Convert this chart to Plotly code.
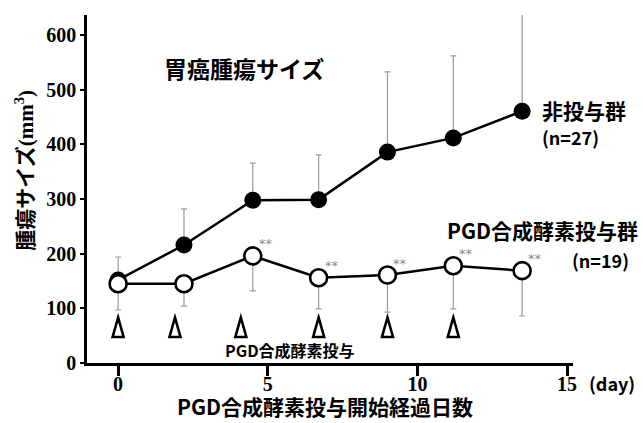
import plotly.graph_objects as go

# Measurement days after the start of PGD synthase dosing
days = [0, 2.2, 4.5, 6.7, 9.0, 11.2, 13.5]

# Untreated group (n=27): mean tumour size and upward SD (mm^3)
control_mean = [152, 216, 298, 299, 386, 412, 461]
control_sd = [42, 66, 68, 82, 147, 150, 182]

# PGD synthase treated group (n=19): mean tumour size and downward SD (mm^3)
treated_mean = [145, 145, 196, 156, 161, 178, 169]
treated_sd = [48, 41, 64, 57, 68, 79, 83]

# Days on which the enzyme was administered
dose_days = [0, 1.9, 4.1, 6.7, 9.0, 11.2]
dose_level = 65

# Points marked as significant (**)
sig_index = [2, 3, 4, 5, 6]

x_ticks = [0, 5, 10, 15]
y_ticks = [0, 100, 200, 300, 400, 500, 600]

SANS = "Noto Sans CJK JP"
SERIF = "Liberation Serif"
ERR_COLOR = "#9a9a9a"

fig = go.Figure()

fig.add_trace(go.Scatter(
    x=days, y=control_mean, mode="lines+markers",
    line=dict(color="black", width=2.5),
    marker=dict(color="black", size=17, line=dict(width=0)),
    error_y=dict(type="data", array=control_sd, arrayminus=[0] * len(days),
                 color=ERR_COLOR, thickness=1.2, width=3),
    cliponaxis=False, showlegend=False,
))

fig.add_trace(go.Scatter(
    x=days, y=treated_mean, mode="lines+markers",
    line=dict(color="black", width=2.5),
    marker=dict(color="white", size=17, line=dict(color="black", width=2.6)),
    error_y=dict(type="data", array=[0] * len(days), arrayminus=treated_sd,
                 color=ERR_COLOR, thickness=1.2, width=3),
    cliponaxis=False, showlegend=False,
))

# Open dosing arrowheads, drawn in pixel units around each dosing day
shapes = []
for d in dose_days:
    shapes.append(dict(
        type="path", xref="x", yref="y",
        xsizemode="pixel", ysizemode="pixel",
        xanchor=d, yanchor=dose_level,
        path="M0,10 L-5.5,-9.5 L5.5,-9.5 Z",
        line=dict(color="black", width=2.6),
        fillcolor="white", layer="above",
    ))

annotations = []
for i in sig_index:
    annotations.append(dict(
        x=days[i], y=treated_mean[i], xref="x", yref="y",
        text="**", showarrow=False, xshift=13, yshift=12,
        font=dict(family="DejaVu Sans", size=13, color="#8a8a8a"),
    ))


def label(text, x, y, size, xanchor="center", xref="x", yref="y", **kw):
    annotations.append(dict(
        x=x, y=y, xref=xref, yref=yref, text=text, showarrow=False,
        xanchor=xanchor, yanchor="middle",
        font=dict(family=SANS, size=size, color="black", weight="bold"), **kw,
    ))


label("胃癌腫瘍サイズ", 4.2, 540, 23)
label("非投与群", 14.1, 463, 21, xanchor="left")
label("(n=27)", 14.1, 414, 18, xanchor="left")
label("PGD合成酵素投与群", 1.138, 0.382, 21, xanchor="right", xref="paper", yref="paper")
label("(n=19)", 1.056, 0.296, 18, xref="paper", yref="paper")
label("PGD合成酵素投与", 5.75, 24, 16)
label("(day)", 1.08, -0.0575, 18, xref="paper", yref="paper")
label("PGD合成酵素投与開始経過日数", 0.489, -0.124, 21, xref="paper", yref="paper")
label('腫瘍サイズ<span style="font-family:Liberation Serif">(mm<sup>3</sup>)</span>',
      -0.13, 0.555, 21, xref="paper", yref="paper", textangle=-90)

fig.update_layout(
    width=643, height=423,
    margin=dict(l=87, r=70, t=15, b=60),
    paper_bgcolor="white", plot_bgcolor="white",
    shapes=shapes, annotations=annotations,
    xaxis=dict(
        range=[-1.04, 15.2], tickvals=x_ticks, ticktext=[str(v) for v in x_ticks],
        showline=True, linecolor="black", linewidth=2.5,
        ticks="outside", ticklen=10, tickwidth=2.5, tickcolor="black",
        showgrid=False, zeroline=False, ticklabelstandoff=-9,
        tickfont=dict(family=SERIF, size=20, color="black", weight="bold"),
    ),
    yaxis=dict(
        range=[0, 637], tickvals=y_ticks, ticktext=[str(v) for v in y_ticks],
        showline=True, linecolor="black", linewidth=2.5,
        ticks="outside", ticklen=4, tickwidth=2, tickcolor="black",
        showgrid=False, zeroline=False,
        tickfont=dict(family=SERIF, size=20, color="black", weight="bold"),
    ),
)

fig.write_html("out.html")
